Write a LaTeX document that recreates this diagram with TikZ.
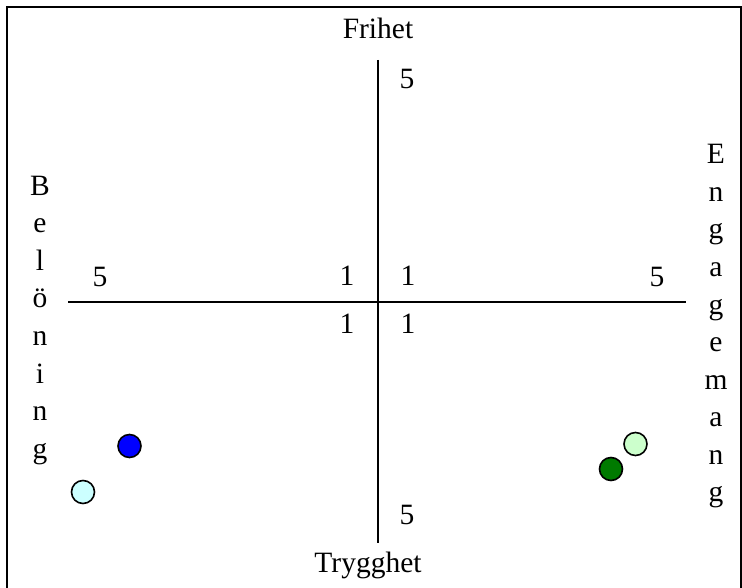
\documentclass[tikz,border=0pt]{standalone}
\usepackage{fontspec}
\setmainfont{Liberation Serif}
\definecolor{dotblue}{HTML}{0000FF}
\definecolor{dotcyan}{HTML}{CCFFFF}
\definecolor{dotlgreen}{HTML}{CCFFCC}
\definecolor{dotdgreen}{HTML}{007A00}
\begin{document}
\begin{tikzpicture}[x=1pt,y=-1pt,
  lbl/.style={inner sep=0pt,font=\fontsize{29.5}{35}\selectfont},
  letter/.style={lbl,anchor=base},
  axisline/.style={line width=2pt},
  frameline/.style={line width=2pt},
  dot/.style={circle,draw=black,line width=1.6pt,minimum size=23pt,inner sep=0pt}]
\useasboundingbox (0,0) rectangle (742,588);
% frame
\coordinate (f1) at (7,600);
\coordinate (f2) at (7,7);
\coordinate (f3) at (741,7);
\coordinate (f4) at (741,600);
\begin{scope}
\clip (0,0) rectangle (742,588);
\draw[frameline] (f1) -- (f2) -- (f3) -- (f4);
\end{scope}
% axes
\coordinate (vt) at (378,60);
\coordinate (vb) at (378,543);
\coordinate (hl) at (68,302);
\coordinate (hr) at (686,302);
\draw[axisline] (vt) -- (vb);
\draw[axisline] (hl) -- (hr);
% axis titles
\node[letter] (frihet) at (378,39) {Frihet};
\node[letter] (trygghet) at (368,572) {Trygghet};
% numbers
\node[lbl] (n5t) at (407,79) {5};
\node[lbl] (n5b) at (407,515) {5};
\node[lbl] (n5l) at (100,277) {5};
\node[lbl] (n5r) at (657,277) {5};
\node[lbl] (n1a) at (347,276) {1};
\node[lbl] (n1b) at (408,276) {1};
\node[lbl] (n1c) at (347,324) {1};
\node[lbl] (n1d) at (408,324) {1};
% Belöning
\foreach \ch [count=\i from 0] in {B,e,l,ö,n,i,n,g}
  \node[letter] (bel\i) at (40,195.5+37.5*\i) {\ch};
% Engagemang
\foreach \ch [count=\i from 0] in {E,n,g,a,g,e,m,a,n,g}
  \node[letter] (eng\i) at (716,164+37.5*\i) {\ch};
% dots
\node[dot,fill=dotblue] (dblue) at (129.5,446) {};
\node[dot,fill=dotcyan] (dcyan) at (83,492) {};
\node[dot,fill=dotlgreen] (dlgreen) at (635.5,444) {};
\node[dot,fill=dotdgreen] (ddgreen) at (611,469) {};
\end{tikzpicture}
\end{document}
